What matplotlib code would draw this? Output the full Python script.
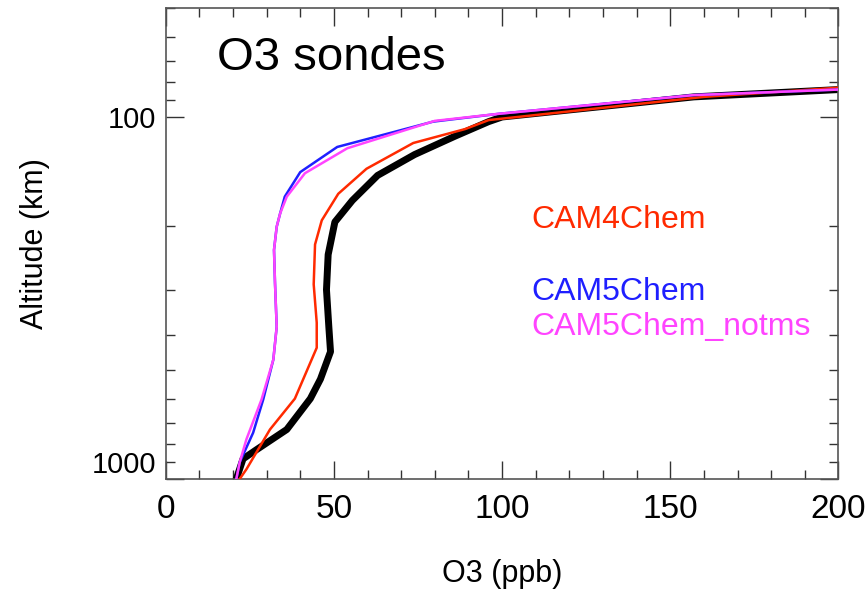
import matplotlib

matplotlib.use("Agg")
import matplotlib.pyplot as plt
from matplotlib.ticker import FixedLocator, LogLocator, MultipleLocator, NullFormatter

plt.rcParams["font.family"] = ["Liberation Sans", "DejaVu Sans"]

# ozone profiles: pressure levels (hPa) and mixing ratio (ppb)
sonde_p = [1000, 880, 830, 730, 600, 530, 445, 380, 300, 240, 195, 170, 145, 127, 113, 103, 100, 88, 84]
sonde_o3 = [21, 23, 27, 36, 43, 46, 49, 48.5, 47.8, 48.3, 50.3, 55.5, 63, 74, 86, 96, 100, 157, 200]

cam4_p = [1000, 940, 730, 600, 434, 370, 290, 225, 193, 163, 139, 118, 108, 102, 88, 83]
cam4_o3 = [22, 24, 31, 38.4, 44.9, 44.9, 44.0, 44.4, 46.4, 51.3, 59.7, 73.6, 89, 96, 160, 200]

cam5_p = [1000, 900, 745, 603, 468, 380, 288, 233, 201, 185, 166, 142, 121, 103, 98, 87, 84]
cam5_o3 = [21, 22, 26, 29, 32, 33, 32.5, 32.2, 33, 34, 35.4, 40, 51, 79.5, 99, 157, 200]

notms_p = [1000, 900, 777, 603, 468, 380, 288, 233, 201, 185, 166, 143, 122, 102.5, 98, 87, 84]
notms_o3 = [21, 22, 24, 28.5, 32, 33, 32.5, 32.2, 33, 34, 36, 41.4, 54, 80, 99, 157, 200]

series = [
    ("CAM4Chem", cam4_o3, cam4_p, "#ff2a00"),
    ("CAM5Chem", cam5_o3, cam5_p, "#1f1fff"),
    ("CAM5Chem_notms", notms_o3, notms_p, "#ff44ff"),
]

fig = plt.figure(figsize=(8.67, 5.89), dpi=100)
ax = fig.add_axes([0.1911, 0.1868, 0.776, 0.7996])

ax.plot(sonde_o3, sonde_p, color="black", lw=5.0, solid_joinstyle="round", zorder=2)
for name, o3, p, col in series:
    ax.plot(o3, p, color=col, lw=1.8, zorder=3)

ax.set_yscale("log")
ax.set_ylim(1000, 50)
ax.set_xlim(0, 200)

ax.xaxis.set_major_locator(MultipleLocator(50))
ax.xaxis.set_minor_locator(MultipleLocator(10))
ax.yaxis.set_major_locator(FixedLocator([100, 1000]))
ax.yaxis.set_minor_locator(LogLocator(base=10, subs=range(2, 10)))
ax.yaxis.set_minor_formatter(NullFormatter())
ax.set_yticklabels(["100", "1000"])

ax.tick_params(which="both", direction="in", top=True, right=True, color="#333333", width=1.0)
ax.tick_params(which="major", length=13)
ax.tick_params(which="minor", length=6.5)
ax.tick_params(axis="x", which="major", labelsize=24, pad=11)
ax.tick_params(axis="y", which="major", labelsize=21, pad=7)
for lab in ax.get_yticklabels():
    if lab.get_text() == "1000":
        lab.set_verticalalignment("bottom")

for sp in ax.spines.values():
    sp.set_color("#555555")
    sp.set_linewidth(1.2)

ax.set_xlabel("O3 (ppb)", fontsize=22, labelpad=24)
ax.set_ylabel("Altitude (km)", fontsize=22, labelpad=30)

ax.text(0.077, 0.868, "O3 sondes", transform=ax.transAxes, fontsize=34, va="baseline")

label_y = [220, 292, 327]
for (name, _, _, col), yp in zip(series, label_y):
    ax.text(531.7 / 867, 1 - yp / 589, name, transform=fig.transFigure,
            color=col, fontsize=23, va="center", ha="left")

fig.savefig("out.png", dpi=100)
